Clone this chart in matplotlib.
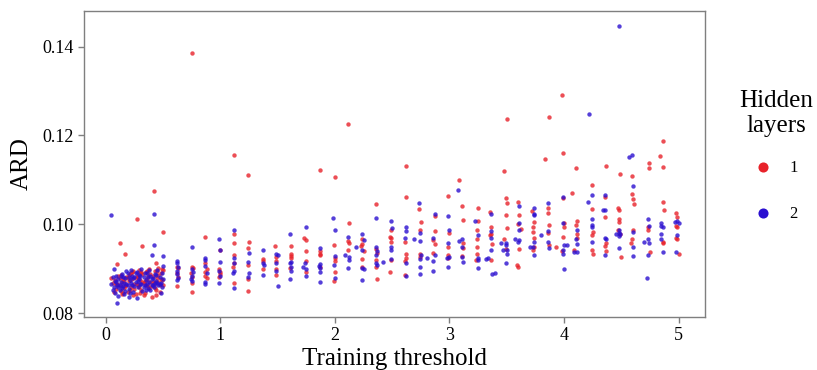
import matplotlib
matplotlib.use("Agg")
import matplotlib.pyplot as plt
import numpy as np

plt.rcParams['font.family'] = ['Liberation Serif', 'DejaVu Serif']

# points: (training threshold, ARD)
# dense cloud at small thresholds, 1 hidden layer
red_low = [
    (0.06,0.0868),(0.08,0.0874),(0.09,0.0855),(0.10,0.0910),(0.11,0.0862),(0.12,0.0957),
    (0.12,0.0878),(0.13,0.0850),(0.14,0.0869),(0.15,0.0846),(0.16,0.0873),(0.17,0.0934),
    (0.17,0.0860),(0.18,0.0882),(0.19,0.0848),(0.20,0.0871),(0.21,0.0888),(0.22,0.0858),
    (0.23,0.0877),(0.24,0.0895),(0.25,0.0866),(0.26,0.0843),(0.27,0.1011),(0.27,0.0884),
    (0.28,0.0862),(0.29,0.0897),(0.30,0.0874),(0.31,0.0852),(0.32,0.0952),(0.32,0.0888),
    (0.33,0.0868),(0.34,0.0845),(0.35,0.0893),(0.36,0.0876),(0.37,0.0860),(0.38,0.0899),
    (0.39,0.0870),(0.40,0.0837),(0.41,0.0883),(0.42,0.1075),(0.42,0.0865),(0.43,0.0895),
    (0.44,0.0912),(0.44,0.0852),(0.45,0.0878),(0.46,0.0902),(0.47,0.0862),(0.48,0.0889),
    (0.49,0.0874),(0.50,0.0982),(0.50,0.0896),(0.07,0.0848),(0.10,0.0866),(0.13,0.0886),
    (0.16,0.0856),(0.19,0.0878),(0.22,0.0890),(0.25,0.0854),(0.28,0.0880),(0.31,0.0892),
    (0.34,0.0872),(0.37,0.0884),(0.40,0.0860),(0.43,0.0870),(0.46,0.0885),(0.49,0.0900),
    (0.24,0.0840),(0.33,0.0840),(0.47,0.0848),
    (0.05,0.0878),(0.09,0.0866),(0.11,0.0884),(0.13,0.0860),(0.15,0.0876),(0.18,0.0862),
    (0.20,0.0886),(0.21,0.0852),(0.23,0.0892),(0.26,0.0878),(0.27,0.0866),(0.29,0.0858),
    (0.30,0.0890),(0.32,0.0870),(0.35,0.0862),(0.36,0.0894),(0.38,0.0856),(0.39,0.0888),
    (0.41,0.0870),(0.43,0.0856),(0.45,0.0894),(0.46,0.0870),(0.48,0.0876),(0.50,0.0862),
    (0.14,0.0842),(0.30,0.0846),(0.44,0.0840),
]

# dense cloud, 2 hidden layers
blue_low = [
    (0.05,0.1021),(0.05,0.0866),(0.06,0.0880),(0.07,0.0900),(0.07,0.0858),(0.08,0.0872),
    (0.09,0.0884),(0.10,0.0822),(0.10,0.0864),(0.11,0.0876),(0.12,0.0852),(0.13,0.0870),
    (0.14,0.0888),(0.15,0.0860),(0.16,0.0842),(0.17,0.0878),(0.18,0.0866),(0.19,0.0890),
    (0.20,0.0855),(0.21,0.0874),(0.22,0.0896),(0.23,0.0864),(0.24,0.0848),(0.25,0.0882),
    (0.26,0.0870),(0.27,0.0834),(0.27,0.0892),(0.28,0.0858),(0.29,0.0876),(0.30,0.0866),
    (0.31,0.0898),(0.32,0.0850),(0.33,0.0880),(0.34,0.0862),(0.35,0.0874),(0.36,0.0890),
    (0.37,0.0856),(0.38,0.0870),(0.39,0.0884),(0.40,0.0931),(0.40,0.0864),(0.41,0.0878),
    (0.42,0.1024),(0.42,0.0954),(0.42,0.0858),(0.43,0.0888),(0.44,0.0872),(0.45,0.0896),
    (0.46,0.0862),(0.47,0.0880),(0.48,0.0868),(0.49,0.0890),(0.50,0.0928),(0.50,0.0876),
    (0.50,0.0906),(0.08,0.0846),(0.12,0.0862),(0.15,0.0880),(0.18,0.0894),(0.21,0.0846),
    (0.24,0.0878),(0.30,0.0884),(0.36,0.0866),(0.39,0.0852),(0.45,0.0868),(0.48,0.0846),
    (0.06,0.0852),(0.09,0.0870),(0.11,0.0858),(0.13,0.0884),(0.14,0.0856),(0.16,0.0868),
    (0.17,0.0850),(0.19,0.0862),(0.20,0.0880),(0.22,0.0868),(0.23,0.0884),(0.25,0.0860),
    (0.26,0.0890),(0.28,0.0872),(0.29,0.0886),(0.31,0.0866),(0.33,0.0858),(0.34,0.0890),
    (0.35,0.0852),(0.37,0.0882),(0.38,0.0896),(0.40,0.0876),(0.41,0.0862),(0.43,0.0868),
    (0.44,0.0886),(0.47,0.0866),(0.49,0.0858),(0.11,0.0838),(0.20,0.0836),
]

# columns from 0.625 upward, 1 hidden layer
red_cols = [
    (0.62,0.0904),(0.63,0.0901),(0.62,0.0890),(0.63,0.0881),(0.62,0.0861),
    (0.75,0.1386),(0.75,0.0904),(0.76,0.0901),(0.74,0.0889),(0.75,0.0880),(0.75,0.0868),(0.75,0.0847),
    (0.87,0.0972),(0.87,0.0913),(0.88,0.0900),(0.87,0.0893),(0.87,0.0883),(0.88,0.0878),
    (1.00,0.0943),(0.99,0.0898),(1.00,0.0893),(1.00,0.0888),(0.99,0.0882),
    (1.12,0.1156),(1.12,0.0978),(1.12,0.0958),(1.12,0.0931),(1.12,0.0912),(1.11,0.0904),(1.12,0.0867),
    (1.24,0.1111),(1.25,0.0961),(1.24,0.0946),(1.24,0.0908),(1.24,0.0876),(1.24,0.0850),
    (1.37,0.0921),(1.37,0.0918),(1.37,0.0898),
    (1.48,0.0950),(1.49,0.0925),(1.49,0.0916),(1.49,0.0898),(1.49,0.0886),
    (1.62,0.0950),(1.62,0.0933),(1.62,0.0928),(1.62,0.0924),(1.61,0.0901),
    (1.73,0.0969),(1.75,0.0964),(1.75,0.0940),(1.75,0.0918),(1.75,0.0893),
    (1.87,0.1123),(1.87,0.0940),(1.87,0.0934),(1.87,0.0931),(1.87,0.0904),
    (2.00,0.1106),(1.99,0.0954),(2.00,0.0924),(2.00,0.0918),(2.00,0.0893),(1.99,0.0873),
    (2.11,0.1225),(2.12,0.1002),(2.11,0.0963),(2.12,0.0958),(2.11,0.0943),
    (2.24,0.0966),(2.24,0.0955),(2.23,0.0951),(2.25,0.0940),(2.24,0.0921),(2.24,0.0904),
    (2.36,0.1045),(2.36,0.0945),(2.37,0.0936),(2.36,0.0919),(2.36,0.0904),(2.37,0.0877),
    (2.49,0.0988),(2.48,0.0972),(2.49,0.0968),(2.49,0.0960),(2.49,0.0919),(2.48,0.0892),
    (2.62,0.1132),(2.62,0.1061),(2.61,0.0961),(2.62,0.0933),(2.62,0.0924),(2.61,0.0917),(2.61,0.0886),
    (2.73,0.1035),(2.75,0.1004),(2.74,0.0988),(2.74,0.0934),(2.74,0.0925),
    (2.87,0.1018),(2.87,0.0985),(2.86,0.0964),(2.87,0.0955),(2.86,0.0936),
    (2.99,0.1064),(3.00,0.0981),(2.99,0.0948),(2.99,0.0931),(2.99,0.0923),
    (3.08,0.1099),(3.11,0.1041),(3.12,0.1009),(3.12,0.0958),(3.12,0.0946),(3.11,0.0928),
    (3.25,0.1037),(3.25,0.1007),(3.24,0.0987),(3.24,0.0966),(3.24,0.0948),(3.24,0.0934),(3.23,0.0919),
    (3.35,0.1027),(3.36,0.0994),(3.36,0.0979),(3.35,0.0975),(3.37,0.0955),(3.36,0.0919),
    (3.50,0.1237),(3.48,0.1120),(3.49,0.1058),(3.50,0.1047),(3.49,0.1021),(3.50,0.0992),(3.48,0.0966),(3.49,0.0945),
    (3.60,0.1050),(3.61,0.1021),(3.60,0.1000),(3.62,0.0990),(3.61,0.0945),(3.59,0.0908),(3.60,0.0904),
    (3.72,0.1030),(3.74,0.1005),(3.73,0.0993),(3.73,0.0983),(3.74,0.0970),(3.74,0.0948),(3.73,0.0942),
    (3.87,0.1241),(3.83,0.1147),(3.86,0.1036),(3.86,0.1026),(3.87,0.0998),(3.86,0.0981),(3.87,0.0953),(3.93,0.0948),
    (3.98,0.1291),(3.99,0.1161),(3.99,0.1058),(4.00,0.1003),(4.00,0.0993),(3.99,0.0972),(3.98,0.0940),
    (4.10,0.1127),(4.07,0.1070),(4.11,0.1008),(4.10,0.0998),(4.11,0.0979),(4.11,0.0970),(4.09,0.0942),
    (4.24,0.1088),(4.24,0.1034),(4.25,0.0983),(4.24,0.0976),(4.24,0.0942),(4.25,0.0934),
    (4.37,0.1131),(4.36,0.1062),(4.36,0.1016),(4.37,0.0958),(4.36,0.0951),(4.37,0.0940),
    (4.49,0.1113),(4.47,0.1036),(4.48,0.1031),(4.48,0.1011),(4.48,0.1005),(4.47,0.0988),(4.49,0.0978),(4.50,0.0927),
    (4.59,0.1109),(4.59,0.1067),(4.60,0.1056),(4.61,0.1045),(4.60,0.0988),(4.59,0.0966),(4.58,0.0957),
    (4.74,0.1137),(4.74,0.1127),(4.73,0.0993),(4.73,0.0988),(4.75,0.0938),
    (4.86,0.1187),(4.84,0.1153),(4.86,0.1129),(4.86,0.1050),(4.87,0.1031),(4.86,0.0960),(4.86,0.0957),
    (4.98,0.1026),(4.99,0.1016),(4.98,0.0996),(4.99,0.0993),(4.98,0.0968),(4.99,0.0966),(5.00,0.0932),
]

# columns from 0.625 upward, 2 hidden layers
blue_cols = [
    (0.62,0.0917),(0.62,0.0913),(0.63,0.0904),(0.62,0.0895),(0.62,0.0888),(0.63,0.0879),(0.62,0.0874),
    (0.75,0.0949),(0.75,0.0898),(0.76,0.0893),(0.75,0.0883),(0.74,0.0876),(0.75,0.0873),
    (0.87,0.0923),(0.87,0.0919),(0.87,0.0906),(0.88,0.0891),(0.87,0.0870),(0.87,0.0865),
    (0.99,0.0966),(1.00,0.0941),(1.00,0.0915),(0.99,0.0895),(1.00,0.0883),(0.99,0.0868),
    (1.12,0.0988),(1.12,0.0923),(1.12,0.0913),(1.12,0.0895),(1.11,0.0889),(1.12,0.0857),
    (1.25,0.0936),(1.24,0.0915),(1.25,0.0891),(1.24,0.0880),
    (1.37,0.0942),(1.37,0.0912),(1.38,0.0909),(1.37,0.0886),
    (1.49,0.0933),(1.50,0.0930),(1.49,0.0913),(1.49,0.0895),(1.50,0.0861),
    (1.61,0.0979),(1.62,0.0915),(1.61,0.0913),(1.62,0.0904),(1.62,0.0895),(1.61,0.0877),
    (1.75,0.0994),(1.74,0.0913),(1.72,0.0903),(1.75,0.0898),(1.75,0.0884),
    (1.87,0.0946),(1.87,0.0910),(1.86,0.0906),(1.87,0.0901),(1.87,0.0893),(1.87,0.0869),
    (1.98,0.1013),(2.00,0.0988),(2.00,0.0928),(1.99,0.0908),(2.00,0.0878),
    (2.11,0.0972),(2.09,0.0931),(2.12,0.0927),(2.12,0.0919),(2.11,0.0901),(2.18,0.0949),
    (2.24,0.0979),(2.25,0.0964),(2.24,0.0943),(2.24,0.0902),(2.25,0.0899),(2.24,0.0874),
    (2.36,0.1013),(2.36,0.0949),(2.37,0.0940),(2.36,0.0931),(2.36,0.0912),(2.37,0.0908),(2.42,0.0915),
    (2.49,0.1008),(2.50,0.0991),(2.49,0.0948),(2.49,0.0942),(2.49,0.0922),
    (2.62,0.0993),(2.62,0.0985),(2.61,0.0970),(2.62,0.0912),(2.62,0.0884),
    (2.73,0.1048),(2.74,0.0981),(2.69,0.0966),(2.74,0.0963),(2.75,0.0931),(2.74,0.0921),(2.74,0.0903),(2.74,0.0888),
    (2.87,0.1023),(2.86,0.0968),(2.80,0.0924),(2.87,0.0931),(2.86,0.0917),(2.86,0.0895),
    (2.99,0.1018),(3.00,0.0988),(2.99,0.0957),(3.00,0.0927),(2.98,0.0924),(2.99,0.0903),
    (3.07,0.1077),(3.11,0.0966),(3.08,0.0962),(3.11,0.0949),(3.11,0.0927),(3.12,0.0915),
    (3.22,0.1008),(3.25,0.0976),(3.25,0.0924),(3.25,0.0919),(3.25,0.0902),(3.32,0.0922),
    (3.36,0.1024),(3.36,0.0985),(3.36,0.0970),(3.36,0.0942),(3.34,0.0923),(3.37,0.0888),(3.40,0.0889),
    (3.49,0.0958),(3.49,0.0953),(3.50,0.0942),(3.50,0.0934),(3.49,0.0913),(3.45,0.0958),(3.47,0.0942),
    (3.61,0.1041),(3.61,0.1003),(3.61,0.0987),(3.61,0.0964),(3.60,0.0960),(3.57,0.0966),
    (3.74,0.1036),(3.74,0.1024),(3.74,0.1021),(3.74,0.0960),(3.73,0.0949),(3.74,0.0931),(3.70,0.0949),
    (3.86,0.1048),(3.86,0.0985),(3.86,0.0960),(3.87,0.0946),(3.80,0.0975),
    (3.99,0.1062),(3.99,0.1003),(4.00,0.0953),(3.99,0.0943),(3.99,0.0933),(4.00,0.0899),(4.03,0.0953),
    (4.11,0.0988),(4.10,0.0966),(4.11,0.0955),(4.11,0.0938),(4.09,0.0938),
    (4.22,0.1247),(4.24,0.1066),(4.21,0.1050),(4.24,0.1011),(4.24,0.0998),(4.24,0.0994),(4.24,0.0960),
    (4.36,0.1066),(4.34,0.1031),(4.36,0.1031),(4.36,0.0969),(4.37,0.0966),(4.36,0.0931),
    (4.48,0.1447),(4.48,0.0987),(4.48,0.0981),(4.49,0.0978),(4.48,0.0973),(4.48,0.0946),(4.45,0.0978),
    (4.57,0.1152),(4.59,0.1155),(4.60,0.1085),(4.60,0.0983),(4.60,0.0948),(4.60,0.0929),
    (4.73,0.1011),(4.74,0.0996),(4.73,0.0966),(4.74,0.0957),(4.73,0.0931),(4.72,0.0879),(4.70,0.0960),
    (4.85,0.1003),(4.85,0.0996),(4.86,0.0993),(4.85,0.0978),(4.85,0.0966),(4.86,0.0938),
    (4.99,0.1008),(5.00,0.1003),(4.97,0.1005),(4.99,0.0976),(4.98,0.0938),
]

x_ticks = [0, 1, 2, 3, 4, 5]
y_ticks = [0.08, 0.10, 0.12, 0.14]
layer_labels = ['1', '2']

red = '#e8222a'
blue = '#2a0fd0'

red_pts = np.array(red_low + red_cols)
blue_pts = np.array(blue_low + blue_cols)

fig = plt.figure(figsize=(8.17, 3.70), dpi=100)
ax = fig.add_axes([0.1028, 0.1432, 0.7601, 0.8271])

ax.scatter(red_pts[:, 0], red_pts[:, 1], s=10, color=red, alpha=0.8, linewidths=0, label=layer_labels[0])
ax.scatter(blue_pts[:, 0], blue_pts[:, 1], s=10, color=blue, alpha=0.8, linewidths=0, label=layer_labels[1])

ax.set_xlim(-0.19, 5.23)
ax.set_ylim(0.0791, 0.148)
ax.set_xticks(x_ticks)
ax.set_xticklabels([str(t) for t in x_ticks])
ax.set_yticks(y_ticks)
ax.set_yticklabels(['%.2f' % t for t in y_ticks])

for s in ax.spines.values():
    s.set_color('#7f7f7f')
    s.set_linewidth(1.0)
ax.tick_params(colors='#7f7f7f', labelcolor='black', labelsize=13, length=4.5, width=1,
               direction='out', pad=3)

ax.set_xlabel('Training threshold', fontsize=18, labelpad=2.5)
ax.set_ylabel('ARD', fontsize=18, labelpad=7)

# legend title drawn on its own so the gap to the keys can match
fig.text(0.9504, 0.6932, 'Hidden\nlayers', fontsize=18, ha='center', va='center',
         multialignment='center')
leg = ax.legend(loc='upper left', bbox_to_anchor=(0.911, 0.568),
                bbox_transform=fig.transFigure,
                frameon=False, fontsize=12, markerscale=2.3,
                labelspacing=1.8, handlelength=2.2, handletextpad=0.5,
                borderpad=0, borderaxespad=0)
for h in leg.legend_handles:
    h.set_alpha(1.0)

fig.savefig('out.png', dpi=100)
